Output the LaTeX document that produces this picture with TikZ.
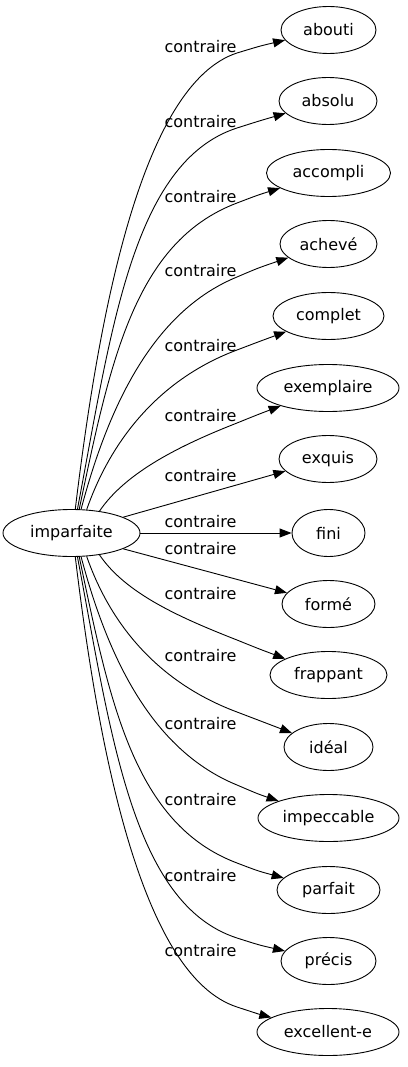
\documentclass[tikz,border=0pt]{standalone}
\usepackage{fontspec}
\setmainfont{DejaVu Sans}
\usetikzlibrary{arrows.meta,shapes.geometric}
\begin{document}
\begin{tikzpicture}[x=1pt,y=-1pt,
  every node/.style={font=\fontsize{16}{19}\selectfont},
  word/.style={ellipse,draw,line width=0.9pt,inner sep=0pt,minimum height=47pt},
  lab/.style={anchor=base,inner sep=0pt},
  conn/.style={draw,line width=0.9pt,-{Triangle[length=12pt,width=9pt]}}]
\useasboundingbox (0,0) rectangle (407,1067);
\node[word,minimum width=137pt] (src) at (71.5,533) {imparfaite};
\node[word,minimum width=95pt]  (t1)  at (328.5,30)  {abouti};
\node[word,minimum width=98pt]  (t2)  at (328,101)   {absolu};
\node[word,minimum width=124pt] (t3)  at (328.5,173) {accompli};
\node[word,minimum width=97pt]  (t4)  at (328.5,244) {achevé};
\node[word,minimum width=111pt] (t5)  at (328.5,316) {complet};
\node[word,minimum width=142pt] (t6)  at (328,388)   {exemplaire};
\node[word,minimum width=98pt]  (t7)  at (328,459)   {exquis};
\node[word,minimum width=73pt]  (t8)  at (328.5,533) {fini};
\node[word,minimum width=93pt]  (t9)  at (328.5,604) {formé};
\node[word,minimum width=117pt] (t10) at (328.5,675) {frappant};
\node[word,minimum width=89pt]  (t11) at (328.5,747) {idéal};
\node[word,minimum width=141pt] (t12) at (328.5,818) {impeccable};
\node[word,minimum width=103pt] (t13) at (328.5,890) {parfait};
\node[word,minimum width=95pt]  (t14) at (328.5,961) {précis};
\node[word,minimum width=142pt] (t15) at (328,1032)  {excellent-e};
% labels
\node[lab] (l1)  at (200.5,52.5)  {contraire};
\node[lab] (l2)  at (200.5,127.5) {contraire};
\node[lab] (l3)  at (200.5,202.5) {contraire};
\node[lab] (l4)  at (200.5,276.5) {contraire};
\node[lab] (l5)  at (200.5,351.5) {contraire};
\node[lab] (l6)  at (200.5,421.5) {contraire};
\node[lab] (l7)  at (200.5,481.5) {contraire};
\node[lab] (l8)  at (200.5,527.5) {contraire};
\node[lab] (l9)  at (200.5,554.5) {contraire};
\node[lab] (l10) at (200.5,599.5) {contraire};
\node[lab] (l11) at (200.5,661.5) {contraire};
\node[lab] (l12) at (200.5,729.5) {contraire};
\node[lab] (l13) at (200.5,805.5) {contraire};
\node[lab] (l14) at (200.5,881.5) {contraire};
\node[lab] (l15) at (200.5,956.5) {contraire};
% edges
\path[conn] (src.81) .. controls (99,312) and (142,84) .. (237,53) .. controls (260,46) .. (t1);
\path[conn] (src.76) .. controls (111,333) and (132,162) .. (237,128) .. controls (259,121) .. (t2);
\path[conn] (src.72) .. controls (110,363) and (134,242) .. (237,203) .. controls (258,195) .. (t3);
\path[conn] (src.68) .. controls (109,404) and (154,311) .. (237,277) .. controls (258,268) .. (t4);
\path[conn] (src.57) .. controls (112,437) and (162,378) .. (237,350) .. controls (258,342) .. (t5);
\path[conn] (src.38) .. controls (126,472) and (181,445) .. (237,423) .. controls (258,414.5) .. (t6);
\path[conn] (src.17) -- (t7);
\path[conn] (src) -- (t8);
\path[conn] (src.-17) -- (t9);
\path[conn] (src.-38) .. controls (126,594) and (181,618) .. (237,640) .. controls (258,648.5) .. (t10);
\path[conn] (src.-57) .. controls (112,629) and (162,684) .. (237,712) .. controls (258,720) .. (t11);
\path[conn] (src.-68) .. controls (109,662) and (154,751) .. (237,785) .. controls (258,794) .. (t12);
\path[conn] (src.-72) .. controls (110,703) and (134,824) .. (237,863) .. controls (258,871) .. (t13);
\path[conn] (src.-76) .. controls (111,733) and (132,904) .. (237,938) .. controls (259,945) .. (t14);
\path[conn] (src.-81) .. controls (99,754) and (142,976) .. (237,1007) .. controls (260,1014.5) .. (t15);
\end{tikzpicture}
\end{document}
